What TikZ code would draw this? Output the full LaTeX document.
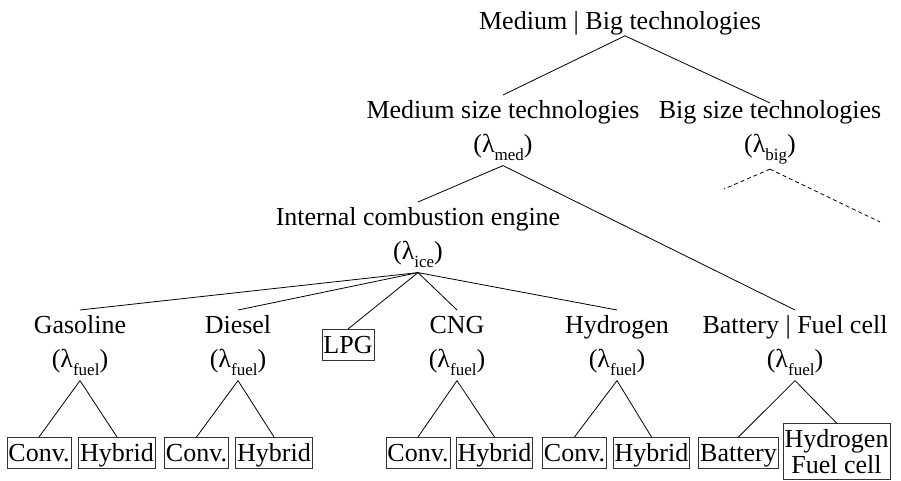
\documentclass[tikz,border=0pt]{standalone}
\usepackage{fontspec}
\setmainfont{Liberation Serif}
% lowered, smaller subscript used after the lambdas
\newcommand{\lsub}[1]{\raisebox{-8pt}{\fontsize{17}{17}\selectfont #1}}
\newcommand{\lam}[1]{(λ\lsub{#1})}
\begin{document}
\begin{tikzpicture}[x=1pt, y=-1pt,
  every node/.style={font=\fontsize{26}{26}\selectfont},
  lab/.style={align=center, inner xsep=2pt, inner ysep=5pt, anchor=north},
  leaf/.style={draw=black!80, line width=0.7pt, inner xsep=1.5pt, inner ysep=1pt,
               text height=23.5pt, text depth=5.5pt, anchor=north},
  leaftwo/.style={draw=black!80, line width=0.7pt, align=center, inner xsep=1.5pt,
                  inner ysep=6pt, anchor=north},
  link/.style={line width=0.8pt},
  future/.style={line width=0.8pt, dash pattern=on 4pt off 3pt}]
\useasboundingbox (0,0) rectangle (901,481);

% upper levels
\node[lab, anchor=base, inner ysep=0pt] (root) at (620,30) {Medium | Big technologies};
\node[lab] (med) at (503,95) {Medium size technologies\\[8pt]\lam{med}};
\node[lab] (big) at (770,95) {Big size technologies\\[8pt]\lam{big}};
\node[lab] (ice) at (418,202) {Internal combustion engine\\[8pt]\lam{ice}};

% fuels
\node[lab] (gas) at (80,310) {Gasoline\\[8pt]\lam{fuel}};
\node[lab] (die) at (238,310) {Diesel\\[8pt]\lam{fuel}};
\node[leaf] (lpg) at (348,329) {LPG};
\node[lab] (cng) at (457,310) {CNG\vphantom{l}\\[8pt]\lam{fuel}};
\node[lab] (hyd) at (617,310) {Hydrogen\\[8pt]\lam{fuel}};
\node[lab] (bfc) at (795,310) {Battery | Fuel cell\\[8pt]\lam{fuel}};

% powertrains
\node[leaf] (gasc) at (39,437) {Conv.};
\node[leaf] (gash) at (117,437) {Hybrid};
\node[leaf] (diec) at (196.5,437) {Conv.};
\node[leaf] (dieh) at (274,437) {Hybrid};
\node[leaf] (cngc) at (418,437) {Conv.};
\node[leaf] (cngh) at (494.5,437) {Hybrid};
\node[leaf] (hydc) at (574.5,437) {Conv.};
\node[leaf] (hydh) at (651.5,437) {Hybrid};
\node[leaf] (bat) at (738.5,437) {Battery};
\node[leaftwo] (hfc) at (836.5,423) {Hydrogen\\Fuel cell};

% open ends of the big size branch
\coordinate (bigl) at (724,189);
\coordinate (bigr) at (880,222);

% connectors
\draw[link] ([xshift=5pt]root.south) -- (med.north);
\draw[link] ([xshift=5pt]root.south) -- ([yshift=-8pt]big.north);
\draw[link] (med.south) -- (ice.north);
\draw[link] (med.south) -- (bfc.north);
\draw[future] (big.south) -- (bigl);
\draw[future] (big.south) -- (bigr);
\foreach \c in {gas,die,lpg,cng,hyd} \draw[link] (ice.south) -- (\c.north);
\draw[link] (gas.south) -- (gasc.north);
\draw[link] (gas.south) -- (gash.north);
\draw[link] (die.south) -- (diec.north);
\draw[link] (die.south) -- (dieh.north);
\draw[link] (cng.south) -- (cngc.north);
\draw[link] (cng.south) -- (cngh.north);
\draw[link] (hyd.south) -- (hydc.north);
\draw[link] (hyd.south) -- (hydh.north);
\draw[link] (bfc.south) -- (bat.north);
\draw[link] (bfc.south) -- (hfc.north);
\end{tikzpicture}
\end{document}
